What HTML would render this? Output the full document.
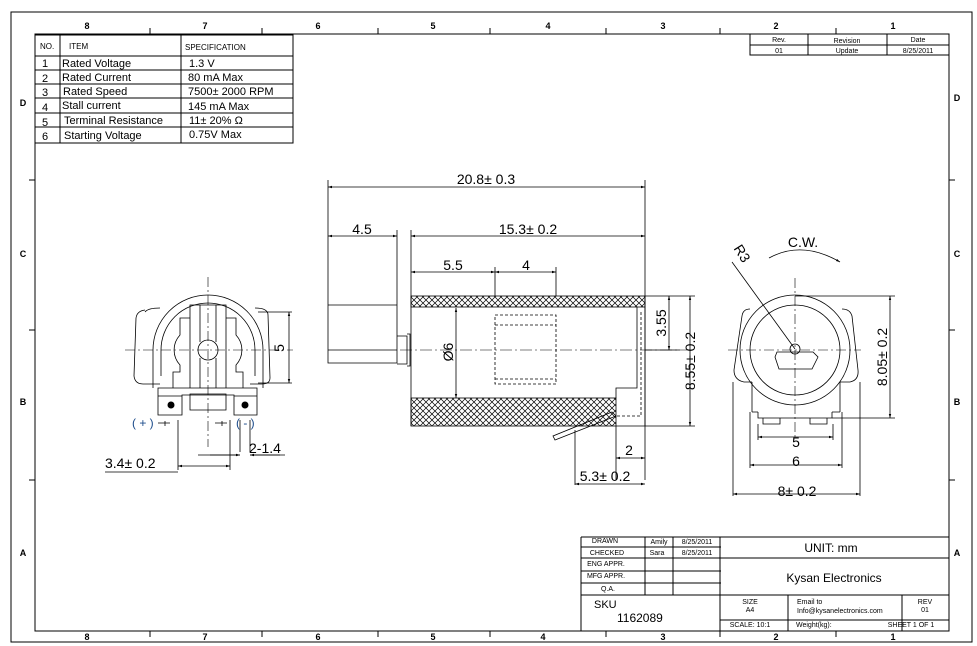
<!DOCTYPE html>
<html><head><style>body{margin:0;background:#fff}svg{display:block}</style></head><body>
<svg width="977" height="646" xmlns="http://www.w3.org/2000/svg" font-family="Liberation Sans, sans-serif">
<defs>
<pattern id="h" width="6" height="6" patternUnits="userSpaceOnUse"><path d="M0 0L6 6M6 0L0 6" stroke="#000" stroke-width="0.7"/></pattern>
<marker id="a" viewBox="0 0 10 10" refX="10" refY="5" markerWidth="7" markerHeight="5" orient="auto-start-reverse"><path d="M0 2L10 5L0 8z"/></marker>
</defs>
<g fill="none" stroke="#000" stroke-width="1">
<rect x="11" y="12" width="961" height="630"/>
<rect x="35" y="34" width="914" height="597"/>
<path d="M150 28v6M262 28v6M378 28v6M490 28v6M606 28v6M720 28v6M836 28v6M150 631v6M262 631v6M378 631v6M490 631v6M606 631v6M720 631v6M836 631v6M29 180h6M29 330h6M29 480h6M949 180h6M949 330h6M949 480h6"/>
<rect x="35" y="35" width="258" height="108"/>
<path d="M60 35v108M181 35v108M35 56h258M35 70h258M35 84h258M35 98h258M35 113h258M35 127h258"/>
<rect x="750" y="34" width="199" height="21"/>
<path d="M808 34v21M887 34v21M750 45h199"/>
<path d="M581 537h368M581 547h140M581 558h368M581 571h140M581 583h140M581 595h368M720 620h229M581 537v94M645 537v58M673 537v58M720 537v94M788 595v36M902 595v36"/>
</g>
<g font-size="9" font-weight="bold" text-anchor="middle">
<text x="87" y="29">8</text><text x="205" y="29">7</text><text x="318" y="29">6</text><text x="433" y="29">5</text><text x="548" y="29">4</text><text x="663" y="29">3</text><text x="776" y="29">2</text><text x="893" y="29">1</text>
<text x="87" y="640">8</text><text x="205" y="640">7</text><text x="318" y="640">6</text><text x="433" y="640">5</text><text x="543" y="640">4</text><text x="663" y="640">3</text><text x="776" y="640">2</text><text x="893" y="640">1</text>
<text x="23" y="106">D</text><text x="23" y="257">C</text><text x="23" y="405">B</text><text x="23" y="556">A</text>
<text x="957" y="101">D</text><text x="957" y="257">C</text><text x="957" y="405">B</text><text x="957" y="556">A</text>
</g>
<g font-size="11">
<text x="40" y="49" font-size="8">NO.</text><text x="69" y="49" font-size="8">ITEM</text><text x="185" y="50" font-size="8">SPECIFICATION</text>
<text x="42" y="67">1</text><text x="42" y="82">2</text><text x="42" y="96">3</text><text x="42" y="111">4</text><text x="42" y="126">5</text><text x="42" y="140">6</text>
<text x="62" y="67">Rated Voltage</text><text x="62" y="81">Rated Current</text><text x="63" y="95">Rated Speed</text><text x="62" y="109">Stall current</text><text x="64" y="124">Terminal Resistance</text><text x="64" y="139">Starting Voltage</text>
<text x="189" y="67">1.3 V</text><text x="188" y="81">80 mA Max</text><text x="188" y="95">7500± 2000 RPM</text><text x="188" y="110">145 mA Max</text><text x="189" y="124">11± 20% Ω</text><text x="189" y="138">0.75V Max</text>
</g>
<g font-size="7" text-anchor="middle">
<text x="779" y="42">Rev.</text><text x="847" y="43">Revision</text><text x="918" y="42">Date</text>
<text x="779" y="53">01</text><text x="847" y="53">Update</text><text x="918" y="53">8/25/2011</text>
<text x="605" y="543">DRAWN</text><text x="607" y="555">CHECKED</text><text x="606" y="566">ENG APPR.</text><text x="606" y="578">MFG APPR.</text><text x="608" y="591">Q.A.</text>
<text x="659" y="544">Amily</text><text x="657" y="555">Sara</text><text x="697" y="544">8/25/2011</text><text x="697" y="555">8/25/2011</text>
<text x="750" y="604">SIZE</text><text x="750" y="612">A4</text><text x="750" y="627">SCALE: 10:1</text>
<text x="925" y="604">REV</text><text x="925" y="612">01</text><text x="911" y="627">SHEET 1 OF 1</text>
</g>
<g font-size="7"><text x="797" y="604">Email to</text><text x="797" y="613">Info@kysanelectronics.com</text><text x="796" y="627">Weight(kg):</text></g>
<text x="831" y="552" font-size="12" text-anchor="middle">UNIT: mm</text>
<text x="834" y="582" font-size="12" text-anchor="middle">Kysan Electronics</text>
<text x="594" y="608" font-size="11">SKU</text><text x="617" y="622" font-size="12">1162089</text>

<!-- left view -->
<g fill="none" stroke="#000" stroke-width="0.8">
<path d="M208 277v170M125 350h168" stroke-dasharray="10 3 2 3" stroke-width="0.6"/>
<path d="M153 388 V350 A55 55 0 0 1 263 350 V388"/>
<path d="M145 312 Q148 308 160 308 M255 308 Q268 308 268 315 L270 378 Q270 384 262 384 H250 M160 384 H143 Q135 384 134 376 L136 318 Q137 311 145 310"/>
<path d="M161 376 V350 A47 47 0 0 1 255 350 V376" />
<path d="M173 388 V372 H180 V365 A22 22 0 0 1 180 335 V318 H190 M226 318 H236 V335 A22 22 0 0 1 236 365 V372 H243 V388"/>
<path d="M190 388 V305 H226 V388 M200 305 V342 M216 305 V342 M200 358 V388 M216 358 V388"/>
<path d="M158 388 H257 V415 H234 V395 H182 V415 H158 Z M158 396 H182 M234 396 H257"/>
<path d="M190 394 H226 V410 H190 Z"/>
<circle cx="208" cy="350" r="10"/>
<path d="M258 312 H292 M258 383 H292"/>
<path d="M178 420 V470 M230 420 V470 M165 421 v5 M158 423 h12 M222 421v5 M215 423h12 M240 420 V452 M250 420 V452"/>
<line x1="289" y1="312" x2="289" y2="383" marker-start="url(#a)" marker-end="url(#a)"/>
<line x1="178" y1="466" x2="230" y2="466" marker-start="url(#a)" marker-end="url(#a)"/>
<path d="M105 472 H178 M198 455 H240 M250 455 H285"/>
<line x1="210" y1="455" x2="240" y2="455" marker-end="url(#a)"/><line x1="280" y1="455" x2="250" y2="455" marker-end="url(#a)"/>
</g>
<circle cx="171" cy="405" r="3.5"/><circle cx="245" cy="405" r="3.5"/>
<text x="284" y="348" font-size="14" transform="rotate(-90 284 348)" text-anchor="middle">5</text>
<text x="132" y="427" font-size="12" fill="#1a4a8a">( + )</text><text x="236" y="427" font-size="12" fill="#1a4a8a">( - )</text>
<text x="105" y="468" font-size="14">3.4± 0.2</text><text x="249" y="453" font-size="14">2-1.4</text>

<!-- middle view -->
<g fill="none" stroke="#000" stroke-width="0.8">
<rect x="411" y="296" width="234" height="11" fill="url(#h)"/>
<rect x="411" y="398" width="205" height="28" fill="url(#h)"/>
<path d="M411 296 V426 M645 296 V426 M616 398 V388 H637 V307 M616 426 H645"/>
<path d="M641 312 V416 H616" stroke-dasharray="3 2"/>
<path d="M328 242 V363 H397 V242 M328 305 H397 M328 350 H397 M397 336 H407 V364 H397 M407 334 h3 v32 h-3"/>
<rect x="495" y="315" width="61" height="69" stroke-dasharray="3 2"/>
<path d="M495 325 H556 M495 379 H556" stroke-dasharray="3 2"/>
<path d="M400 350 H690" stroke-dasharray="12 3 2 3" stroke-width="0.6"/>
<path d="M328 180 V242 M645 180 V480 M397 230 V242 M411 230 V296 M495 267 V296 M556 267 V296 M645 296 H695 M645 350 H680 M645 426 H695 M616 426 V480 M555 440 L616 416 L612 412 L553 436 Z M575 430 V485"/>
<line x1="328" y1="187" x2="645" y2="187" marker-start="url(#a)" marker-end="url(#a)"/>
<line x1="328" y1="236" x2="397" y2="236" marker-start="url(#a)" marker-end="url(#a)"/>
<line x1="411" y1="236" x2="645" y2="236" marker-start="url(#a)" marker-end="url(#a)"/>
<line x1="411" y1="272" x2="495" y2="272" marker-start="url(#a)" marker-end="url(#a)"/>
<line x1="495" y1="272" x2="556" y2="272" marker-start="url(#a)" marker-end="url(#a)"/>
<line x1="456" y1="308" x2="456" y2="398" marker-start="url(#a)" marker-end="url(#a)"/>
<line x1="669" y1="296" x2="669" y2="350" marker-start="url(#a)" marker-end="url(#a)"/>
<line x1="690" y1="296" x2="690" y2="426" marker-start="url(#a)" marker-end="url(#a)"/>
<line x1="616" y1="458" x2="645" y2="458" marker-start="url(#a)" marker-end="url(#a)"/>
<line x1="575" y1="484" x2="645" y2="484" marker-start="url(#a)" marker-end="url(#a)"/>
</g>
<g font-size="14" text-anchor="middle">
<text x="486" y="184">20.8± 0.3</text><text x="362" y="234">4.5</text><text x="528" y="234">15.3± 0.2</text>
<text x="453" y="270">5.5</text><text x="526" y="270">4</text><text x="629" y="455">2</text><text x="605" y="481">5.3± 0.2</text>
<text transform="translate(453 352) rotate(-90)">Ø6</text>
<text transform="translate(666 323) rotate(-90)">3.55</text>
<text transform="translate(695 361) rotate(-90)">8.55± 0.2</text>
</g>

<!-- right view -->
<g fill="none" stroke="#000" stroke-width="0.8">
<path d="M795 278v160M728 350h133" stroke-dasharray="10 3 2 3" stroke-width="0.6"/>
<circle cx="795" cy="350" r="55"/><circle cx="795" cy="350" r="45"/>
<path d="M750 309 Q743 309 742 316 L734 370 Q734 380 744 382 H752 M840 382 H850 Q859 380 858 370 L852 316 Q850 309 842 309"/>
<path d="M752 382 V412 M840 382 V412 M758 412 V418 H832 V412 M752 412 H758 M832 412 H840 M763 418 V424 H780 V418 M810 418 V424 H827 V418"/>
<path d="M777 352 H813 L818 357 L812 369 H779 L775 357 Z"/>
<circle cx="795" cy="349" r="5"/>
<path d="M795 349 L732 262"/>
<path d="M769 258 Q802 240 840 262" marker-end="url(#a)"/>
<path d="M795 296 H895 M832 418 H895 M758 424 V440 M833 424 V440 M750 412 V468 M842 412 V468 M733 382 V496 M860 382 V496"/>
<line x1="890" y1="296" x2="890" y2="418" marker-start="url(#a)" marker-end="url(#a)"/>
<line x1="758" y1="437" x2="833" y2="437" marker-start="url(#a)" marker-end="url(#a)"/>
<line x1="750" y1="465" x2="842" y2="465" marker-start="url(#a)" marker-end="url(#a)"/>
<line x1="733" y1="494" x2="860" y2="494" marker-start="url(#a)" marker-end="url(#a)"/>
</g>
<g font-size="14" text-anchor="middle">
<text x="803" y="247">C.W.</text><text x="796" y="447">5</text><text x="796" y="466">6</text><text x="797" y="496">8± 0.2</text>
<text transform="translate(738 256) rotate(58)">R3</text>
<text transform="translate(887 357) rotate(-90)">8.05± 0.2</text>
</g>
</svg>
</body></html>
